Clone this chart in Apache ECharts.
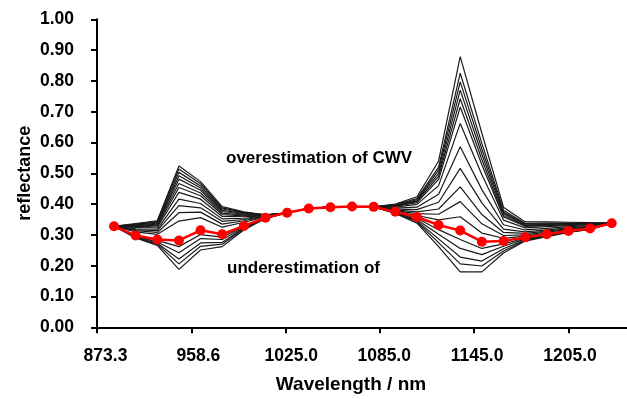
<!DOCTYPE html>
<html><head><meta charset="utf-8">
<script src="https://cdn.jsdelivr.net/npm/echarts@6/dist/echarts.min.js"></script>
<style>html,body{margin:0;padding:0;background:#fff}#c{width:627px;height:399px}</style>
</head><body><div id="c"></div>
<script>
// band index categories (24 spectral bands)
const bands = ['b1','b2','b3','b4','b5','b6','b7','b8','b9','b10','b11','b12','b13','b14','b15','b16','b17','b18','b19','b20','b21','b22','b23','b24'];
// x tick labels (wavelength, nm)
const wlLabels = ['873.3','958.6','1025.0','1085.0','1145.0','1205.0'];
const wlTickPos = [0,1,2,3,4,5];
// reflectance with the correct CWV (red)
const trueCWV = [.328,.298,.285,.282,.315,.302,.329,.356,.372,.386,.390,.392,.391,.375,.358,.332,.314,.278,.280,.292,.302,.313,.321,.338];
// overestimation of CWV (black, top to bottom)
const over01 = [.328,.337,.346,.524,.473,.392,.375,.365,.372,.386,.390,.392,.391,.400,.424,.540,.879,.630,.390,.342,.342,.341,.340,.338];
const over02 = [.328,.335,.344,.514,.466,.388,.373,.365,.372,.386,.390,.392,.391,.398,.418,.520,.825,.597,.380,.337,.338,.338,.338,.338];
const over03 = [.328,.334,.341,.503,.459,.384,.371,.364,.372,.386,.390,.392,.391,.396,.414,.510,.797,.579,.374,.335,.336,.337,.337,.338];
const over04 = [.328,.332,.338,.492,.452,.380,.369,.364,.372,.386,.390,.392,.391,.395,.411,.500,.770,.562,.369,.332,.334,.336,.336,.338];
const over05 = [.328,.330,.335,.481,.445,.376,.367,.363,.372,.386,.390,.392,.391,.394,.408,.490,.742,.545,.363,.330,.332,.334,.335,.338];
const over06 = [.328,.328,.332,.467,.436,.371,.364,.363,.372,.386,.390,.392,.391,.393,.405,.480,.715,.528,.358,.328,.330,.333,.335,.338];
const over07 = [.328,.326,.329,.454,.427,.366,.362,.362,.372,.386,.390,.392,.391,.390,.399,.460,.662,.495,.348,.323,.327,.330,.333,.338];
const over08 = [.328,.324,.325,.438,.416,.360,.359,.362,.372,.386,.390,.392,.391,.387,.390,.432,.586,.447,.333,.316,.321,.327,.330,.338];
const over09 = [.328,.320,.319,.416,.402,.352,.354,.361,.372,.386,.390,.392,.391,.384,.382,.406,.516,.404,.319,.310,.316,.323,.328,.338];
const over10 = [.328,.317,.314,.395,.388,.344,.350,.360,.372,.386,.390,.392,.391,.381,.375,.384,.456,.366,.308,.305,.312,.320,.326,.338];
const over11 = [.328,.314,.308,.372,.374,.335,.346,.359,.372,.386,.390,.392,.391,.379,.369,.367,.408,.336,.298,.300,.309,.318,.324,.338];
const over12 = [.328,.310,.302,.345,.356,.325,.341,.358,.372,.386,.390,.392,.391,.377,.363,.349,.359,.306,.289,.296,.305,.315,.323,.338];
// underestimation of CWV (black, top to bottom)
const under01 = [.328,.298,.282,.262,.301,.293,.326,.355,.372,.386,.390,.392,.391,.374,.354,.317,.285,.256,.271,.289,.300,.312,.320,.338];
const under02 = [.328,.296,.277,.242,.288,.285,.323,.355,.372,.386,.390,.392,.391,.373,.349,.302,.256,.236,.263,.287,.299,.311,.320,.338];
const under03 = [.328,.294,.273,.222,.274,.276,.321,.354,.372,.386,.390,.392,.391,.372,.345,.287,.228,.215,.255,.284,.297,.310,.319,.338];
const under04 = [.328,.292,.270,.206,.263,.270,.319,.354,.372,.386,.390,.392,.391,.371,.342,.275,.206,.199,.248,.282,.296,.309,.319,.338];
const under05 = [.328,.290,.266,.188,.251,.262,.316,.353,.372,.386,.390,.392,.391,.370,.338,.262,.180,.180,.241,.280,.294,.308,.318,.338];

const blackLines = [over01,over02,over03,over04,over05,over06,over07,over08,over09,over10,over11,over12,under01,under02,under03,under04,under05];

const FONT = '"Liberation Sans", Arial, sans-serif';
const chart = echarts.init(document.getElementById('c'), null, {renderer:'canvas'});

const series = blackLines.map((d, i) => ({
  type:'line', xAxisIndex:2, yAxisIndex:2, data:d, symbol:'none', silent:true,
  lineStyle:{color:'#1a1a1a', width:1.2}, z:2, animation:false
}));
series.push({
  type:'line', xAxisIndex:2, yAxisIndex:2, data:trueCWV, symbol:'circle', symbolSize:10,
  itemStyle:{color:'#ff0000'}, lineStyle:{color:'#ff0000', width:2.5}, z:5, animation:false
});

chart.setOption({
  animation:false,
  backgroundColor:'#fff',
  grid:[
    {left:97, right:0, top:19.3, bottom:71.7},
    {left:105.5, right:57, top:19.3, bottom:71.7},
    {left:114, right:15.3, top:19.3, bottom:71.7}
  ],
  xAxis:[
    {gridIndex:0, type:'value', min:0, max:5.62, interval:1,
     axisLine:{lineStyle:{color:'#000', width:2}},
     axisTick:{show:true, length:6, lineStyle:{color:'#000', width:2}, customValues:wlTickPos},
     axisLabel:{show:false}, splitLine:{show:false}},
    {gridIndex:1, type:'category', data:wlLabels, boundaryGap:false,
     axisLine:{show:false}, axisTick:{show:false},
     axisLabel:{show:true, interval:0, margin:20, color:'#000', fontFamily:FONT, fontWeight:'bold', fontSize:17.5}},
    {gridIndex:2, type:'category', data:bands, boundaryGap:false, show:false}
  ],
  yAxis:[
    {gridIndex:0, type:'value', min:0, max:1, interval:0.1,
     name:'reflectance', nameLocation:'middle', nameGap:63, nameMoveOverlap:false,
     nameTextStyle:{color:'#000', fontFamily:FONT, fontWeight:'bold', fontSize:18},
     axisLine:{show:true, lineStyle:{color:'#000', width:2}},
     axisTick:{show:true, length:6, lineStyle:{color:'#000', width:2}},
     axisLabel:{margin:23, color:'#000', fontFamily:FONT, fontWeight:'bold', fontSize:17.5, formatter:v=>v.toFixed(2)},
     splitLine:{show:false}},
    {gridIndex:1, type:'value', min:0, max:1, show:false},
    {gridIndex:2, type:'value', min:0, max:1, show:false}
  ],
  graphic:[
    {type:'text', x:351, y:385, style:{text:'Wavelength / nm', fill:'#000', font:'bold 19px '+FONT, textAlign:'center', textVerticalAlign:'middle'}},
    {type:'text', x:226, y:158, style:{text:'overestimation of CWV', fill:'#000', font:'bold 17px '+FONT, textAlign:'left', textVerticalAlign:'middle'}},
    {type:'text', x:227, y:268, style:{text:'underestimation of', fill:'#000', font:'bold 17px '+FONT, textAlign:'left', textVerticalAlign:'middle'}}
  ],
  series:series
});
</script>
</body></html>
